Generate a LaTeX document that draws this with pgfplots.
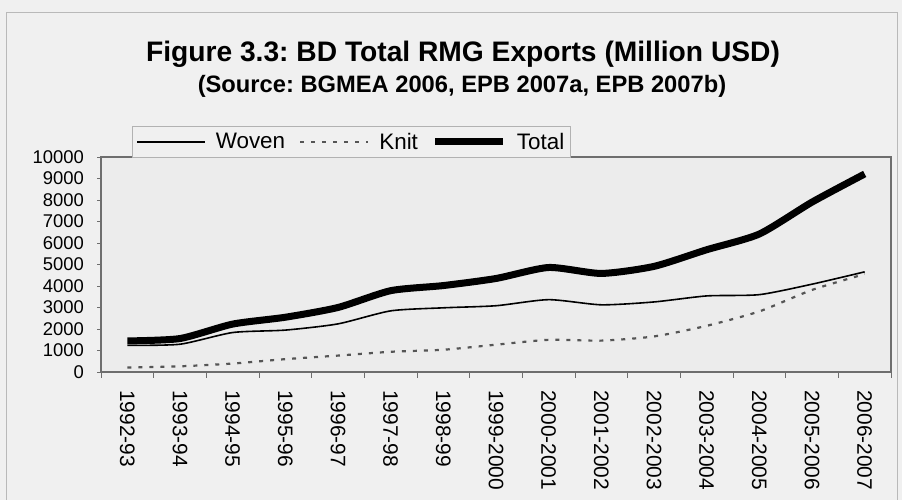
\documentclass[border=0pt]{standalone}
\usepackage{fontspec}
\setmainfont{Liberation Sans}
\usepackage{pgfplots}
\pgfplotsset{compat=1.18}
\definecolor{bg}{RGB}{240,240,240}
\definecolor{plotbg}{RGB}{236,236,236}
\definecolor{framec}{RGB}{110,110,110}
\definecolor{knitc}{RGB}{85,85,85}
\frenchspacing
\begin{document}
\begin{tikzpicture}[x=1bp,y=1bp]
\useasboundingbox (0,0) rectangle (902,500);
\fill[bg] (0,0) rectangle (902,500);
\draw[gray!55, line width=1bp] (6,0) -- (6,487) -- (897,487) -- (897,0);
\node[font=\bfseries\fontsize{28.3}{30}\selectfont, anchor=base, inner sep=0pt] at (463,438) {Figure 3.3: BD Total RMG Exports (Million USD)};
\node[font=\bfseries\fontsize{23.8}{26}\selectfont, anchor=base, inner sep=0pt] at (462,407) {(Source: BGMEA 2006, EPB 2007a, EPB 2007b)};
\begin{axis}[
  at={(101bp,128bp)}, anchor=south west,
  width=790bp, height=215bp, scale only axis,
  xmin=-0.5, xmax=14.5, ymin=0, ymax=10000,
  scaled y ticks=false,
  axis background/.style={fill=plotbg},
  axis line style={framec, line width=1.4bp},
  tick align=outside, tick pos=left,
  xtick={0,1,2,3,4,5,6,7,8,9,10,11,12,13,14},
  xticklabels={1992-93,1993-94,1994-95,1995-96,1996-97,1997-98,1998-99,1999-2000,2000-2001,2001-2002,2002-2003,2003-2004,2004-2005,2005-2006,2006-2007},
  major x tick style={draw=none},
  minor xtick={-0.5,0.5,1.5,2.5,3.5,4.5,5.5,6.5,7.5,8.5,9.5,10.5,11.5,12.5,13.5,14.5},
  minor tick length=6bp,
  minor x tick style={framec, line width=0.8bp},
  ytick={0,1000,2000,3000,4000,5000,6000,7000,8000,9000,10000},
  yticklabels={0,1000,2000,3000,4000,5000,6000,7000,8000,9000,10000},
  major tick length=4bp,
  major y tick style={framec, line width=0.8bp},
  xticklabel style={font=\fontsize{21}{22}\selectfont, rotate=-90, anchor=west, inner sep=0pt},
  xticklabel shift=14bp,
  yticklabel style={font=\fontsize{18.5}{20}\selectfont, anchor=east, inner sep=0pt},
  yticklabel shift=13bp,
  legend columns=3,
  legend image code/.code={\draw[#1] (0bp,0bp) -- (68bp,0bp);},
  legend style={at={(0.039,0.995)}, anchor=south west, fill=bg, draw=gray!60, line width=0.8bp,
    font=\fontsize{22.5}{25}\selectfont, inner xsep=4bp, inner ysep=5bp,
    /tikz/every odd column/.append style={column sep=8bp},
    /tikz/every even column/.append style={column sep=12bp}},
]
\addplot[black, line width=1.6bp, smooth, tension=0.4] coordinates {
(0,1240) (1,1292) (2,1835) (3,1949) (4,2238) (5,2843) (6,2985) (7,3082) (8,3364) (9,3125) (10,3258) (11,3538) (12,3598) (13,4084) (14,4658)};
\addlegendentry{Woven}
\addplot[knitc, line width=2.2bp, dash pattern=on 4bp off 7bp, smooth, tension=0.4] coordinates {
(0,205) (1,264) (2,393) (3,598) (4,763) (5,940) (6,1035) (7,1270) (8,1496) (9,1459) (10,1654) (11,2148) (12,2819) (13,3817) (14,4554)};
\addlegendentry{Knit}
\addplot[black, line width=7bp, smooth, tension=0.4] coordinates {
(0,1445) (1,1556) (2,2228) (3,2547) (4,3001) (5,3782) (6,4020) (7,4349) (8,4860) (9,4584) (10,4912) (11,5686) (12,6418) (13,7901) (14,9211)};
\addlegendentry{Total}
\end{axis}
\end{tikzpicture}
\end{document}
